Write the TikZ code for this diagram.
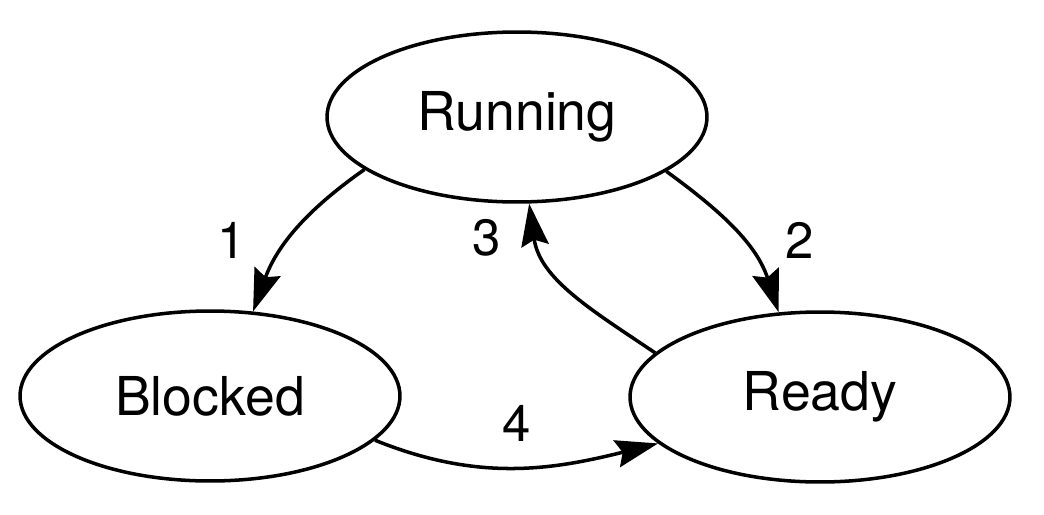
\documentclass[tikz,border=0pt]{standalone}
\usepackage{fontspec}
\setmainfont{TeX Gyre Heros}
\usetikzlibrary{shapes.geometric,arrows.meta}
\begin{document}
\begin{tikzpicture}[x=0.02cm, y=-0.02cm, line width=2pt, state_style/.style={ellipse,draw=black,line width=2pt,minimum width=7.6cm,minimum height=3.4cm,inner sep=0pt,font=\fontsize{30.5}{36}\selectfont}, label_style/.style={inner sep=0pt,font=\fontsize{29}{34}\selectfont}, edge_style/.style={draw=black, line width=2pt, -{Stealth[length=0.85cm,width=0.55cm,inset=0.12cm]}}]
      \useasboundingbox (0,0) rectangle (1044,514);
      \draw
        (517, 117) node[state_style] (running){Running}
        (210, 396) node[state_style] (blocked){Blocked}
        (820, 397) node[state_style] (ready){Ready};
      \draw
        (232, 240) node[label_style] (l1){1}
        (800, 240) node[label_style] (l2){2}
        (487, 238) node[label_style] (l3){3}
        (517, 423) node[label_style] (l4){4};
      \begin{scope}
        \draw[edge_style] (running.199) to[out=215, in=70] (blocked.63);
        \draw[edge_style] (running.340) to[out=-36, in=108] (ready.116);
        \draw[edge_style] (ready.165) to[out=146, in=-82] (running.278);
        \draw[edge_style] (blocked.345) to[out=-22, in=194] (ready.196);
      \end{scope}
    \end{tikzpicture}
\end{document}
